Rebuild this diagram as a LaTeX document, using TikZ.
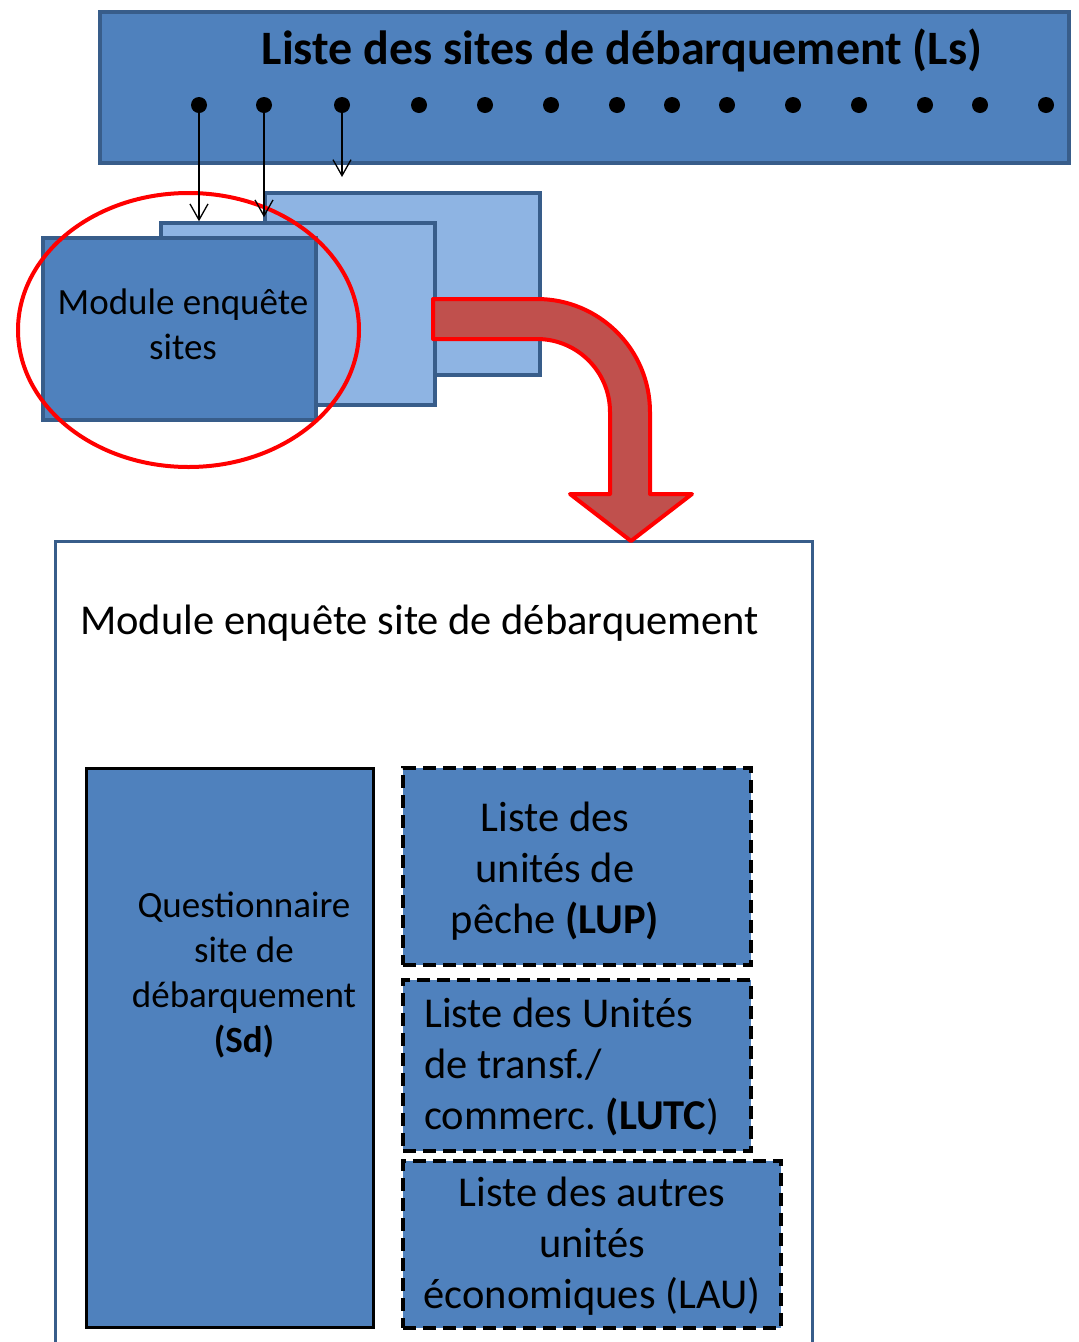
\documentclass[tikz,border=0pt]{standalone}
\usepackage{fontspec}
\setmainfont{Carlito}
\usetikzlibrary{arrows.meta}
\definecolor{boxblue}{HTML}{4F81BD}
\definecolor{lightblue}{HTML}{8EB4E3}
\definecolor{edgeblue}{HTML}{385D8A}
\definecolor{arrowred}{HTML}{C0504D}
\frenchspacing
\begin{document}
\begin{tikzpicture}[x=1pt, y=-1pt,
    darkbox/.style={draw=edgeblue, fill=boxblue, line width=3.5pt, inner sep=0pt},
    lightbox/.style={draw=edgeblue, fill=lightblue, line width=3.5pt, inner sep=0pt},
    listbox/.style={draw=black, fill=boxblue, line width=3.5pt, dash pattern=on 13pt off 7pt, inner sep=0pt},
    dot/.style={circle, fill=black, inner sep=0pt, minimum size=16pt},
    pin/.style={line width=1.3pt, -{Straight Barb[length=16pt,width=18pt]}},
    txt/.style={inner sep=0pt, align=center, font=\fontsize{37}{45}\selectfont},
    bigtxt/.style={inner sep=0pt, align=center, font=\fontsize{42.5}{51}\selectfont}]
    \clip (0,0) rectangle (1079,1342);
    % top list
    \node[darkbox, minimum width=969pt, minimum height=151pt] (ls) at (584.5,87.5) {};
    \node[inner sep=0pt, font=\fontsize{48}{58}\selectfont\bfseries] (lstitle) at (622,50)
        {Liste des sites de débarquement (Ls)};
    \foreach \x [count=\i] in {199,264,342,419,485,551,617,672,727,793,859,925,980,1046}
        \node[dot] (d\i) at (\x,105) {};
    % stacked modules
    \node[lightbox, minimum width=275pt, minimum height=182pt] (bx3) at (402.5,284) {};
    \node[lightbox, minimum width=274pt, minimum height=182pt] (bx2) at (298,314) {};
    \node[darkbox, minimum width=273pt, minimum height=182pt] (bx1) at (179.5,329) {};
    \node[txt] (bx1txt) at (183,324) {Module enquête\\sites};
    \draw[red, line width=4pt] (188.5,330) ellipse [x radius=170.5, y radius=137];
    \coordinate (d3end) at (342,177);
    \draw[pin] (d1) -- (d1 |- bx2.north);
    \draw[pin] (d2) -- ([yshift=4pt]d2 |- bx2.north);
    \draw[pin] (d3) -- (d3end);
    % survey module
    \draw[edgeblue, line width=3pt] (55,1360) -- (55,541) -- (812,541) -- (812,1360);
    \node[bigtxt, anchor=west] (modtitle) at (80,623) {Module enquête site de débarquement};
    \draw[red, line width=4pt, line join=round, fill=arrowred]
        (433,299) -- (537,299) .. controls (599.4,299) and (650,349.6) .. (650,412)
        -- (650,494) -- (692,494) -- (631,541) -- (570,494) -- (610,494) -- (610,412)
        .. controls (610,371.7) and (577.3,339) .. (537,339) -- (433,339) -- cycle;
    \node[darkbox, draw=black, line width=3pt, minimum width=287pt, minimum height=559pt] (sd) at (229.5,1047.5) {};
    \node[txt] (sdtxt) at (244,975) {Questionnaire\\site de\\débarquement\\\textbf{(Sd)}};
    \node[listbox, minimum width=348pt, minimum height=197pt] (lup) at (577,866.5) {};
    \node[bigtxt] (luptxt) at (555,871) {Liste des\\unités de\\pêche \textbf{(LUP)}};
    \node[listbox, minimum width=348pt, minimum height=171pt] (lutc) at (577,1065.5) {};
    \node[bigtxt, align=left, anchor=west] (lutctxt) at (424,1067) {Liste des Unités\\de transf./\\commerc. \textbf{(LUTC})};
    \node[listbox, minimum width=378pt, minimum height=167pt] (lau) at (592,1244.5) {};
    \node[bigtxt] (lautxt) at (592,1246) {Liste des autres\\unités\\économiques (LAU)};
\end{tikzpicture}
\end{document}
